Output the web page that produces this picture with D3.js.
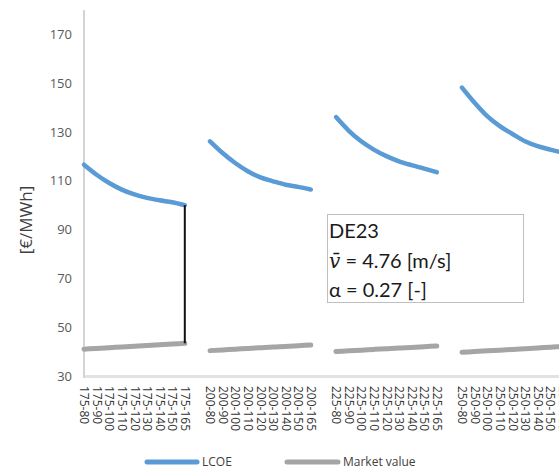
<!DOCTYPE html>
<html>
<head>
<meta charset="utf-8">
<script src="https://cdn.jsdelivr.net/npm/d3@7"></script>
<style>
  html, body { margin: 0; padding: 0; background: #fff; }
  svg { display: block; }
</style>
</head>
<body>
<script>
// ---- data ----
const hubHeights = ["175", "200", "225", "250"];
const diameters = ["80", "90", "100", "110", "120", "130", "140", "150", "165"];
const lcoe = [
  [116.6, 112.5, 109.1, 106.4, 104.4, 103.0, 102.0, 101.2, 100.0],
  [126.2, 121.4, 117.3, 113.9, 111.4, 109.8, 108.4, 107.5, 106.4],
  [136.1, 130.6, 126.2, 122.8, 120.1, 118.0, 116.4, 115.0, 113.5],
  [148.2, 142.0, 136.5, 132.4, 129.2, 126.2, 124.2, 122.8, 121.5]
];
const marketValue = [
  [41.0, 41.3, 41.6, 41.9, 42.2, 42.5, 42.8, 43.1, 43.4],
  [40.4, 40.7, 41.0, 41.3, 41.6, 41.9, 42.1, 42.4, 42.7],
  [40.0, 40.3, 40.6, 40.9, 41.2, 41.5, 41.7, 42.0, 42.3],
  [39.7, 40.0, 40.3, 40.6, 40.9, 41.2, 41.5, 41.8, 42.1]
];
const yTicks = [30, 50, 70, 90, 110, 130, 150, 170];
const seriesNames = ["LCOE", "Market value"];
const annotation = ["DE23", "= 4.76 [m/s]", "α = 0.27 [-]"];

// ---- layout ----
const W = 559, H = 469;
const colors = { lcoe: "#5b9bd5", mv: "#a5a5a5" };
const svg = d3.select("body").append("svg").attr("width", W).attr("height", H)
  .style("font-family", "'Open Sans', sans-serif");

// category slots: each group of diameters followed by one blank slot
const slots = [];
hubHeights.forEach((h, g) => {
  diameters.forEach((d, j) => slots.push({ label: h + "-" + d, g, j }));
  if (g < hubHeights.length - 1) slots.push({ label: "", g: -1, j: -1 });
});
const slotIndex = (g, j) => slots.findIndex(s => s.g === g && s.j === j);

const x = d3.scalePoint().domain(d3.range(slots.length)).range([84, 84 + (slots.length - 1) * 12.6]);
const y = d3.scaleLinear().domain([30, 180]).range([376, 10]);

// axes lines
svg.append("line").attr("x1", 84).attr("x2", W).attr("y1", y(30) + 0.5).attr("y2", y(30) + 0.5)
  .attr("stroke", "#e2e2e2").attr("stroke-width", 3);
svg.append("line").attr("x1", 84).attr("x2", 84).attr("y1", y(180)).attr("y2", y(30) + 2)
  .attr("stroke", "#d4d4d4").attr("stroke-width", 2);

// y axis
const yAxis = d3.axisLeft(y).tickValues(yTicks).tickSize(0).tickPadding(0);
const gy = svg.append("g").attr("transform", "translate(72,0)").call(yAxis);
gy.select(".domain").remove();
gy.selectAll("text").attr("fill", "#595959").style("font-size", "13px")
  .style("font-family", "'Open Sans', sans-serif");

svg.append("text").attr("transform", `translate(32,220) rotate(-90)`)
  .attr("text-anchor", "middle").attr("fill", "#404040").style("font-size", "17px")
  .text("[€/MWh]");

// x labels
const xAxis = d3.axisBottom(x).tickSize(0).tickFormat(i => slots[i].label);
const gx = svg.append("g").attr("transform", `translate(0,${y(30)})`).call(xAxis);
gx.select(".domain").remove();
gx.selectAll("text")
  .attr("transform", "rotate(90)")
  .attr("x", 10).attr("y", 0).attr("dy", "0.35em")
  .attr("text-anchor", "start")
  .attr("fill", "#333").style("font-size", "12px")
  .style("font-family", "'Open Sans', sans-serif");

// lines
const line = d3.line().x(d => x(d.i)).y(d => y(d.v)).curve(d3.curveMonotoneX);
hubHeights.forEach((h, g) => {
  const mv = marketValue[g].map((v, j) => ({ i: slotIndex(g, j), v }));
  svg.append("path").datum(mv).attr("d", line).attr("fill", "none")
    .attr("stroke", colors.mv).attr("stroke-width", 5).attr("stroke-linecap", "round");
});
hubHeights.forEach((h, g) => {
  const lc = lcoe[g].map((v, j) => ({ i: slotIndex(g, j), v }));
  svg.append("path").datum(lc).attr("d", line).attr("fill", "none")
    .attr("stroke", colors.lcoe).attr("stroke-width", 4.5).attr("stroke-linecap", "round");
});

// drop line at 175-165
const last = diameters.length - 1;
svg.append("line")
  .attr("x1", x(slotIndex(0, last))).attr("x2", x(slotIndex(0, last)))
  .attr("y1", y(lcoe[0][last])).attr("y2", y(marketValue[0][last]))
  .attr("stroke", "#111").attr("stroke-width", 2);

// annotation box
const box = svg.append("g").attr("transform", "translate(327,214)");
box.append("rect").attr("x", 0.5).attr("y", 0.5).attr("width", 196).attr("height", 88)
  .attr("fill", "#fff").attr("stroke", "#bfbfbf").attr("stroke-width", 1);
const tstyle = t => t.attr("fill", "#1a1a1a").style("font-size", "20px").style("font-family", "Lato, 'Open Sans', sans-serif");
tstyle(box.append("text").attr("x", 2).attr("y", 24).text(annotation[0]));
const t2 = tstyle(box.append("text").attr("x", 2).attr("y", 54));
t2.append("tspan").style("font-family", "'DejaVu Serif', serif").style("font-style", "italic").text("v\u0304");
t2.append("tspan").text(" " + annotation[1]);
tstyle(box.append("text").attr("x", 2).attr("y", 83).text(annotation[2]));

// legend
const leg = svg.append("g").attr("transform", "translate(0,462)");
[[147, 197, 202, colors.lcoe, seriesNames[0]], [287, 338, 343, colors.mv, seriesNames[1]]].forEach(([a, b, t, c, n]) => {
  leg.append("line").attr("x1", a).attr("x2", b).attr("y1", 0).attr("y2", 0)
    .attr("stroke", c).attr("stroke-width", 5).attr("stroke-linecap", "round");
  leg.append("text").attr("x", t).attr("y", 0).attr("dy", "0.35em").attr("fill", "#404040")
    .style("font-size", "12px").text(n);
});
</script>
</body>
</html>
